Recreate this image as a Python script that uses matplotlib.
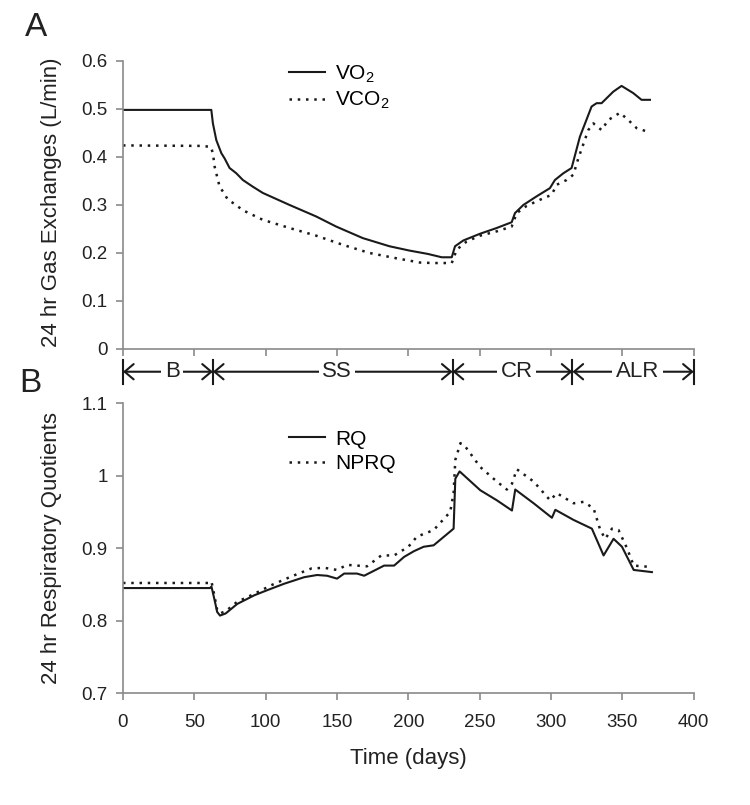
import matplotlib
matplotlib.use('Agg')
import matplotlib.pyplot as plt
import matplotlib.transforms as mtransforms

plt.rcParams['font.family'] = ['Liberation Sans', 'DejaVu Sans']
plt.rcParams['mathtext.fontset'] = 'custom'
plt.rcParams['mathtext.rm'] = 'Liberation Sans'
plt.rcParams['mathtext.it'] = 'Liberation Sans:italic'

# Panel A: 24 hr gas exchanges (L/min)
vo2_days = [0, 61.9, 63, 65.4, 68.9, 71.2, 74.7, 79.4, 84, 91, 98, 116.7, 135.4, 149.4,
            168, 186.7, 200.7, 213.6, 223.4, 230.4, 232.7, 238.5, 250.2, 261.9, 272.4,
            274.7, 280.6, 289.9, 299.2, 302.7, 308.6, 314.4, 320.2, 328.4, 331.9,
            335.4, 343.6, 349.4, 357.6, 363.4, 369.3]
vo2 = [0.498, 0.498, 0.470, 0.435, 0.408, 0.397, 0.377, 0.366, 0.352, 0.338, 0.325,
       0.300, 0.276, 0.255, 0.231, 0.214, 0.205, 0.198, 0.191, 0.191, 0.214, 0.226,
       0.240, 0.252, 0.264, 0.283, 0.300, 0.318, 0.335, 0.352, 0.366, 0.377, 0.442,
       0.505, 0.512, 0.512, 0.536, 0.548, 0.533, 0.519, 0.519]

vco2_days = [0, 55, 61.5, 63, 64.2, 67.7, 70, 73.5, 78.2, 84, 91, 98, 116.7, 135.4, 154,
             172.7, 191.4, 208.2, 217.5, 230.4, 233.9, 240.9, 250.2, 261.9, 272.4,
             275.9, 282.9, 294.6, 300.4, 303.9, 310.9, 315.6, 319.1, 326.1, 329.6,
             335.4, 340.1, 348.3, 354.1, 360, 369.3]
vco2 = [0.424, 0.423, 0.421, 0.408, 0.380, 0.338, 0.328, 0.311, 0.302, 0.289, 0.279,
        0.269, 0.252, 0.236, 0.217, 0.200, 0.189, 0.180, 0.179, 0.179, 0.207, 0.224,
        0.236, 0.245, 0.255, 0.283, 0.298, 0.314, 0.321, 0.342, 0.352, 0.363, 0.397,
        0.456, 0.470, 0.456, 0.477, 0.492, 0.477, 0.460, 0.451]

# Panel B: 24 hr respiratory quotients
rq_days = [0, 61, 62, 64, 66, 68, 72, 80, 92, 101, 113, 127, 136, 143, 150, 155, 164,
           169, 176, 183, 190, 197, 204, 210.7, 217.7, 231.7, 232.9, 235.9, 250.4,
           262.1, 272.6, 274.9, 287.8, 300.6, 303, 315.8, 328.6, 336.8, 343.8, 349.7,
           357.9, 370.7]
rq = [0.845, 0.845, 0.847, 0.830, 0.812, 0.807, 0.810, 0.823, 0.835, 0.842, 0.851,
      0.860, 0.863, 0.862, 0.858, 0.865, 0.865, 0.862, 0.869, 0.876, 0.876, 0.888,
      0.896, 0.902, 0.904, 0.927, 0.996, 1.006, 0.980, 0.966, 0.952, 0.981, 0.962,
      0.942, 0.953, 0.939, 0.927, 0.890, 0.913, 0.902, 0.870, 0.867]

nprq_days = [0, 61, 62, 64, 66, 68, 72, 80, 92, 104, 118, 132, 141, 150, 157, 171, 181,
             190, 200, 206, 217.7, 229.3, 231.7, 232.9, 236.5, 240, 250.4, 262, 269,
             272.6, 276, 287.8, 299.4, 304, 315.8, 322.8, 329.8, 334.5, 338, 342.7,
             347.3, 353.2, 357.9, 370.7]
nprq = [0.852, 0.852, 0.854, 0.835, 0.815, 0.810, 0.813, 0.826, 0.837, 0.849, 0.861,
        0.872, 0.873, 0.870, 0.877, 0.875, 0.890, 0.890, 0.902, 0.916, 0.925, 0.950,
        0.976, 1.022, 1.045, 1.040, 1.012, 0.992, 0.981, 0.989, 1.009, 0.992, 0.966,
        0.976, 0.962, 0.964, 0.955, 0.925, 0.913, 0.927, 0.925, 0.900, 0.876, 0.874]

# study phases (days)
phase_names = ['B', 'SS', 'CR', 'ALR']
phase_edges = [0, 63, 231, 315, 400]

x_ticks = [0, 50, 100, 150, 200, 250, 300, 350, 400]
gas_ticks = [0, 0.1, 0.2, 0.3, 0.4, 0.5, 0.6]
gas_labels = ['0', '0.1', '0.2', '0.3', '0.4', '0.5', '0.6']
rq_ticks = [0.7, 0.8, 0.9, 1.0, 1.1]
rq_labels = ['0.7', '0.8', '0.9', '1', '1.1']

ink = '#1a1a1a'
grey = '#8a8a8a'
dots = (0, (1, 2.3))

fig = plt.figure(figsize=(7.5, 8.05), dpi=100)
axA = fig.add_axes([0.164, 0.5665, 0.761, 0.3578])
axB = fig.add_axes([0.164, 0.139, 0.761, 0.360])


def style(ax):
    for s in ['top', 'right']:
        ax.spines[s].set_visible(False)
    for s in ['left', 'bottom']:
        ax.spines[s].set_color(grey)
        ax.spines[s].set_linewidth(1.2)
    ax.tick_params(direction='out', length=5, width=1.2, color=grey,
                   labelsize=13.5, labelcolor='#222222')
    ax.tick_params(axis='y', pad=6)
    ax.tick_params(axis='x', pad=10)
    ax.set_xlim(0, 400)
    ax.set_xticks(x_ticks)


# --- panel A
style(axA)
axA.plot(vo2_days, vo2, color=ink, lw=1.5, label='VO$_2$')
axA.plot(vco2_days, vco2, color=ink, lw=1.8, ls=dots, label='VCO$_2$')
axA.set_ylim(0, 0.6)
axA.set_yticks(gas_ticks)
axA.set_yticklabels(gas_labels)
axA.tick_params(axis='x', labelbottom=False)
axA.set_ylabel('24 hr Gas Exchanges (L/min)', fontsize=16, color='#222222')
axA.yaxis.set_label_coords(-0.107, 0.51)
axA.legend(loc='upper left', bbox_to_anchor=(0.29, 0.991), frameon=False, fontsize=15,
           handlelength=1.75, handletextpad=0.5, labelspacing=0.25,
           borderaxespad=0, borderpad=0)

# phase arrows under panel A
trans = mtransforms.blended_transform_factory(axA.transData, axA.transAxes)
row_y = -0.079
for i, name in enumerate(phase_names):
    a, b = phase_edges[i], phase_edges[i + 1]
    axA.annotate('', xy=(a, row_y), xytext=(b, row_y), xycoords=trans, textcoords=trans,
                 arrowprops=dict(arrowstyle='<->,head_length=0.65,head_width=0.55',
                                 lw=1.5, color=ink, shrinkA=0, shrinkB=0,
                                 mutation_scale=10))
    axA.text((a + b) / 2 + 3, row_y, name, transform=trans, ha='center', va='center',
             fontsize=16, color='#222222', zorder=5,
             bbox=dict(fc='white', ec='none', pad=2.5))
for e in phase_edges:
    axA.plot([e, e], [row_y - 0.042, row_y + 0.042], transform=trans, color=ink,
             lw=1.5, clip_on=False)

# --- panel B
style(axB)
axB.plot(rq_days, rq, color=ink, lw=1.5, label='RQ')
axB.plot(nprq_days, nprq, color=ink, lw=1.8, ls=dots, label='NPRQ')
axB.set_ylim(0.7, 1.1)
axB.set_yticks(rq_ticks)
axB.set_yticklabels(rq_labels)
axB.set_ylabel('24 hr Respiratory Quotients', fontsize=16, color='#222222')
axB.yaxis.set_label_coords(-0.107, 0.5)
axB.set_xlabel('Time (days)', fontsize=16, color='#222222', labelpad=12)
axB.legend(loc='upper left', bbox_to_anchor=(0.29, 0.909), frameon=False, fontsize=15,
           handlelength=1.75, handletextpad=0.5, labelspacing=0.25,
           borderaxespad=0, borderpad=0)

fig.text(36 / 750, 1 - 27 / 805, 'A', fontsize=24, ha='center', va='center', color='#222222')
fig.text(30 / 750, 1 - 383 / 805, 'B', fontsize=24, ha='center', va='center', color='#222222')

fig.savefig('out.png', dpi=100)
